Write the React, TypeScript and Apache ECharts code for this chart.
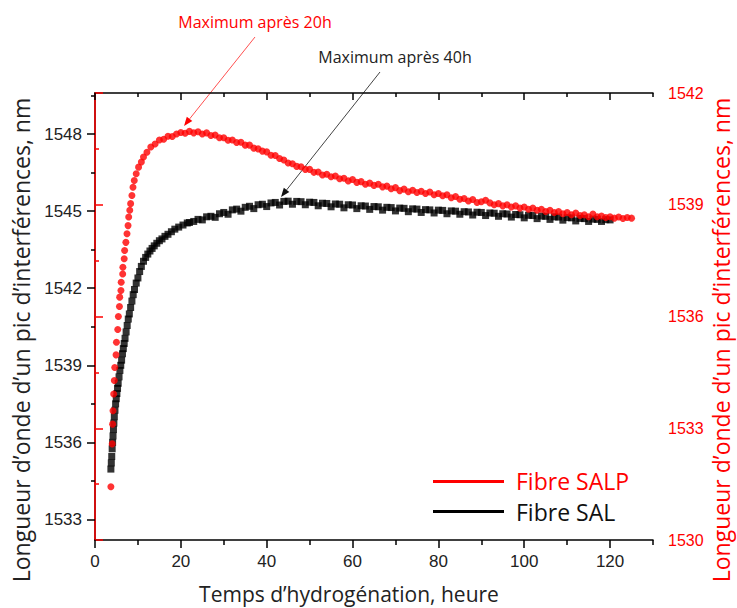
import React, { useEffect, useRef } from "react";
import * as echarts from "echarts";

// Fibre SAL (black squares, left axis)
const salHours = [
  3.7, 3.8, 3.9, 4.0, 4.1, 4.2, 4.3, 4.4, 4.5, 4.65, 4.8, 4.95, 5.1, 5.25, 5.4, 5.6, 5.8, 6.0, 6.2, 6.4,
  6.6, 6.8, 7.0, 7.25, 7.5, 7.75, 8.0, 8.3, 8.6, 8.9, 9.2, 9.6, 10.0, 10.4, 10.8, 11.3, 11.8, 12.3, 12.8,
  13.3, 13.8, 14.4, 15.0, 15.6, 16.3, 17.0, 17.8, 18.6, 19.5, 20.5, 21.5,
  22, 23, 24, 25, 26, 27, 28, 29, 30, 31, 32, 33, 34, 35, 36, 37, 38, 39, 40,
  41, 42, 43, 44, 45, 46, 47, 48, 49, 50, 51, 52, 53, 54, 55, 56, 57, 58, 59, 60,
  61, 62, 63, 64, 65, 66, 67, 68, 69, 70, 71, 72, 73, 74, 75, 76, 77, 78, 79, 80,
  81, 82, 83, 84, 85, 86, 87, 88, 89, 90, 91, 92, 93, 94, 95, 96, 97, 98, 99, 100,
  101, 102, 103, 104, 105, 106, 107, 108, 109, 110, 111, 112, 113, 114, 115, 116, 117, 118, 119, 120,
];
const salValues = [
  1534.96, 1535.2, 1535.45, 1535.75, 1536.0, 1536.25, 1536.5, 1536.75, 1537.0, 1537.25, 1537.5, 1537.7,
  1537.9, 1538.1, 1538.3, 1538.55, 1538.8, 1539.0, 1539.2, 1539.45, 1539.65, 1539.85, 1540.05, 1540.3,
  1540.55, 1540.8, 1541.0, 1541.25, 1541.5, 1541.75, 1541.95, 1542.2, 1542.4, 1542.65, 1542.85, 1543.05,
  1543.2, 1543.33, 1543.45, 1543.55, 1543.65, 1543.75, 1543.85, 1543.92, 1544.02, 1544.1, 1544.2, 1544.3,
  1544.38, 1544.46, 1544.54,
  1544.56, 1544.6, 1544.68, 1544.66, 1544.78, 1544.8, 1544.76, 1544.9, 1544.95, 1544.88, 1545.05, 1545.08,
  1545.0, 1545.15, 1545.19, 1545.1, 1545.25, 1545.27, 1545.18,
  1545.32, 1545.34, 1545.24, 1545.38, 1545.39, 1545.27, 1545.38, 1545.37, 1545.25, 1545.35, 1545.34,
  1545.21, 1545.31, 1545.3, 1545.17, 1545.28, 1545.27, 1545.13, 1545.25, 1545.24,
  1545.1, 1545.21, 1545.2, 1545.07, 1545.18, 1545.17, 1545.04, 1545.15, 1545.14, 1545.01, 1545.12,
  1545.11, 1544.98, 1545.09, 1545.08, 1544.95, 1545.06, 1545.05, 1544.93, 1545.04,
  1545.03, 1544.9, 1545.01, 1545.0, 1544.88, 1544.98, 1544.97, 1544.85, 1544.96, 1544.95, 1544.83,
  1544.93, 1544.92, 1544.8, 1544.9, 1544.89, 1544.77, 1544.87, 1544.86, 1544.74,
  1544.84, 1544.83, 1544.71, 1544.81, 1544.8, 1544.68, 1544.78, 1544.77, 1544.65, 1544.75, 1544.74,
  1544.62, 1544.72, 1544.71, 1544.6, 1544.69, 1544.68, 1544.6, 1544.67, 1544.66,
];

// Fibre SALP (red circles, right axis)
const salpHours = [
  3.7, 4.0, 4.1, 4.2, 4.35, 4.5, 4.6, 4.9, 5.0, 5.3, 5.45, 5.7, 5.75, 6.05, 6.1, 6.45, 6.5, 6.8, 6.9, 7.2,
  7.45, 7.7, 7.85, 8.1, 8.3, 8.6, 8.85, 9.15, 9.6, 10.15, 10.8, 11.3, 12.1,
  13, 14, 15, 16, 17, 18, 19, 20, 21, 22, 23, 24, 25, 26, 27, 28, 29, 30, 31, 32, 33, 34, 35, 36, 37, 38,
  39, 40, 41, 42, 43, 44, 45, 46, 47, 48, 49, 50, 51, 52, 53, 54, 55, 56, 57, 58, 59, 60, 61, 62, 63, 64,
  65, 66, 67, 68, 69, 70, 71, 72, 73, 74, 75, 76, 77, 78, 79, 80, 81, 82, 83, 84, 85, 86, 87, 88, 89, 90,
  91, 92, 93, 94, 95, 96, 97, 98, 99, 100, 101, 102, 103, 104, 105, 106, 107, 108, 109, 110, 111, 112,
  113, 114, 115, 116, 117, 118, 119, 120, 121, 122, 123, 124, 125,
];
const salpValues = [
  1531.43, 1532.58, 1533.11, 1533.47, 1533.92, 1534.28, 1534.63, 1534.97, 1535.31, 1535.65, 1536.0,
  1536.27, 1536.52, 1536.7, 1536.92, 1537.14, 1537.32, 1537.55, 1537.77, 1537.99, 1538.22, 1538.44,
  1538.67, 1538.85, 1539.03, 1539.25, 1539.47, 1539.65, 1539.83, 1540.01, 1540.15, 1540.28, 1540.41,
  1540.55, 1540.63, 1540.74, 1540.76, 1540.84, 1540.83, 1540.9, 1540.94, 1540.92, 1540.97, 1540.93,
  1540.96, 1540.9, 1540.93, 1540.86, 1540.87, 1540.8, 1540.8, 1540.73, 1540.74, 1540.67, 1540.68, 1540.6,
  1540.6, 1540.52, 1540.5, 1540.44, 1540.42, 1540.33, 1540.32, 1540.24, 1540.2, 1540.12, 1540.1, 1540.03,
  1540.02, 1539.95, 1539.95, 1539.87, 1539.88, 1539.8, 1539.82, 1539.75, 1539.77, 1539.7, 1539.71,
  1539.64, 1539.68, 1539.6, 1539.62, 1539.55, 1539.58, 1539.52, 1539.55, 1539.48, 1539.5, 1539.43,
  1539.46, 1539.38, 1539.42, 1539.35, 1539.39, 1539.33, 1539.36, 1539.3, 1539.34, 1539.27, 1539.3,
  1539.24, 1539.27, 1539.19, 1539.22, 1539.15, 1539.17, 1539.1, 1539.14, 1539.06, 1539.08, 1539.12,
  1539.05, 1539.0, 1539.03, 1538.97, 1539.0, 1538.94, 1538.97, 1538.91, 1538.94, 1538.88, 1538.91,
  1538.85, 1538.88, 1538.82, 1538.85, 1538.79, 1538.82, 1538.76, 1538.79, 1538.73, 1538.78, 1538.71,
  1538.73, 1538.68, 1538.75, 1538.68, 1538.7, 1538.66, 1538.68, 1538.64, 1538.67, 1538.63, 1538.66,
  1538.64,
];

const xMajorTicks = [0, 20, 40, 60, 80, 100, 120];
const xMinorTicks = [10, 30, 50, 70, 90, 110, 130];
const leftMajorTicks = [1533, 1536, 1539, 1542, 1545, 1548];
const leftMinorTicks = [1534.5, 1537.5, 1540.5, 1543.5, 1546.5, 1549.5];

const xTitle = "Temps d’hydrogénation, heure";
const yTitle = "Longueur d’onde d’un pic d’interférences, nm";
const salName = "Fibre SAL";
const salpName = "Fibre SALP";
const note20 = "Maximum après 20h";
const note40 = "Maximum après 40h";

const RED = "#ff0000";
const DARK = "#222222";
const TICK_FONT = "'Liberation Sans', Arial, sans-serif";
const TEXT_FONT = "'Open Sans', 'Noto Sans', sans-serif";
const plain = (v: number) => String(v);

export default function App() {
  const ref = useRef<HTMLDivElement>(null);
  useEffect(() => {
    if (!ref.current) return;
    const chart = echarts.init(ref.current, undefined, { renderer: "svg" });
    const salData = salHours.map((h, i) => [h, salValues[i]]);
    const salpData = salpHours.map((h, i) => [h, salpValues[i]]);
    const xBase = { type: "value", min: 0, max: 130, splitLine: { show: false } };
    const hideLabel = { show: false };
    chart.setOption({
      animation: false,
      backgroundColor: "#ffffff",
      grid: { left: 95, right: 84, top: 93, bottom: 68, containLabel: false },
      xAxis: [
        {
          ...xBase,
          position: "bottom",
          axisLine: { show: true, lineStyle: { color: "#000", width: 1.5 } },
          axisTick: { show: true, customValues: xMajorTicks, length: 8, lineStyle: { color: "#000", width: 1.5 } },
          axisLabel: { show: true, customValues: xMajorTicks, formatter: plain, color: DARK, fontSize: 17, fontFamily: TICK_FONT, margin: 13 },
        },
        {
          ...xBase,
          position: "bottom",
          axisLine: { show: false },
          axisTick: { show: true, customValues: xMinorTicks, length: 5, lineStyle: { color: "#000", width: 1.5 } },
          axisLabel: hideLabel,
        },
        {
          ...xBase,
          position: "top",
          axisLine: { show: true, lineStyle: { color: "#000", width: 1.5 } },
          axisTick: { show: true, inside: true, customValues: xMajorTicks, length: 7, lineStyle: { color: "#000", width: 1.5 } },
          axisLabel: hideLabel,
        },
        {
          ...xBase,
          position: "top",
          axisLine: { show: false },
          axisTick: { show: true, inside: true, customValues: xMinorTicks, length: 4, lineStyle: { color: "#000", width: 1.5 } },
          axisLabel: hideLabel,
        },
      ],
      yAxis: [
        {
          type: "value",
          position: "left",
          min: 1532.2,
          max: 1549.6,
          splitLine: { show: false },
          axisLine: { show: true, lineStyle: { color: "#000", width: 1.5 } },
          axisTick: { show: true, customValues: leftMajorTicks, length: 8, lineStyle: { color: "#000", width: 1.5 } },
          axisLabel: { show: true, customValues: leftMajorTicks, formatter: plain, color: DARK, fontSize: 17, fontFamily: TICK_FONT, margin: 13 },
        },
        {
          type: "value",
          position: "left",
          min: 1532.2,
          max: 1549.6,
          splitLine: { show: false },
          axisLine: { show: false },
          axisTick: { show: true, customValues: leftMinorTicks, length: 4, lineStyle: { color: "#000", width: 1.5 } },
          axisLabel: hideLabel,
        },
        {
          type: "value",
          position: "right",
          min: 1530,
          max: 1542,
          interval: 3,
          splitLine: { show: false },
          axisLine: { show: true, lineStyle: { color: RED, width: 1.5 } },
          axisTick: { show: true, length: 8, lineStyle: { color: RED, width: 1.5 } },
          minorTick: { show: true, splitNumber: 2, length: 4, lineStyle: { color: RED, width: 1.5 } },
          minorSplitLine: { show: false },
          axisLabel: { show: true, formatter: plain, color: RED, fontSize: 16, fontFamily: TICK_FONT, margin: 15 },
        },
      ],
      series: [
        {
          type: "scatter",
          name: salName,
          xAxisIndex: 0,
          yAxisIndex: 0,
          data: salData,
          symbol: "rect",
          symbolSize: 7,
          itemStyle: { color: "#000000" },
          z: 2,
        },
        {
          type: "scatter",
          name: salpName,
          xAxisIndex: 0,
          yAxisIndex: 2,
          data: salpData,
          symbol: "circle",
          symbolSize: 7,
          itemStyle: { color: RED },
          z: 3,
        },
      ],
      graphic: [
        {
          type: "text",
          x: 21,
          y: 340,
          rotation: Math.PI / 2,
          style: { text: yTitle, fill: DARK, font: `23px ${TEXT_FONT}`, align: "center", verticalAlign: "middle" },
        },
        {
          type: "text",
          x: 721,
          y: 340,
          rotation: Math.PI / 2,
          style: { text: yTitle, fill: RED, font: `23px ${TEXT_FONT}`, align: "center", verticalAlign: "middle" },
        },
        {
          type: "text",
          x: 349,
          y: 594,
          style: { text: xTitle, fill: DARK, font: `21px ${TEXT_FONT}`, align: "center", verticalAlign: "middle" },
        },
        // legend
        { type: "line", shape: { x1: 433, y1: 481.5, x2: 504, y2: 481.5 }, style: { stroke: RED, lineWidth: 3 } },
        { type: "line", shape: { x1: 433, y1: 511.5, x2: 504, y2: 511.5 }, style: { stroke: "#000", lineWidth: 3 } },
        {
          type: "text",
          x: 516,
          y: 481,
          style: { text: salpName, fill: RED, font: `23px ${TEXT_FONT}`, align: "left", verticalAlign: "middle" },
        },
        {
          type: "text",
          x: 516,
          y: 512,
          style: { text: salName, fill: "#111", font: `23px ${TEXT_FONT}`, align: "left", verticalAlign: "middle" },
        },
        // annotations
        {
          type: "text",
          x: 255,
          y: 22,
          style: { text: note20, fill: RED, font: `16px ${TEXT_FONT}`, align: "center", verticalAlign: "middle" },
        },
        {
          type: "text",
          x: 395,
          y: 57,
          style: { text: note40, fill: DARK, font: `16px ${TEXT_FONT}`, align: "center", verticalAlign: "middle" },
        },
        { type: "line", shape: { x1: 255, y1: 37, x2: 189.6, y2: 118.9 }, style: { stroke: "#ff5050", lineWidth: 1 } },
        {
          type: "polygon",
          shape: { points: [[184, 126], [192.3, 121.1], [186.8, 116.8]] },
          style: { fill: RED },
        },
        { type: "line", shape: { x1: 380, y1: 72, x2: 286.6, y2: 189.9 }, style: { stroke: "#444", lineWidth: 1 } },
        {
          type: "polygon",
          shape: { points: [[281, 197], [289.3, 192.1], [283.8, 187.8]] },
          style: { fill: "#111" },
        },
      ],
    });
    return () => chart.dispose();
  }, []);
  return <div ref={ref} style={{ position: "fixed", left: 0, top: 0, width: 737, height: 608 }} />;
}
